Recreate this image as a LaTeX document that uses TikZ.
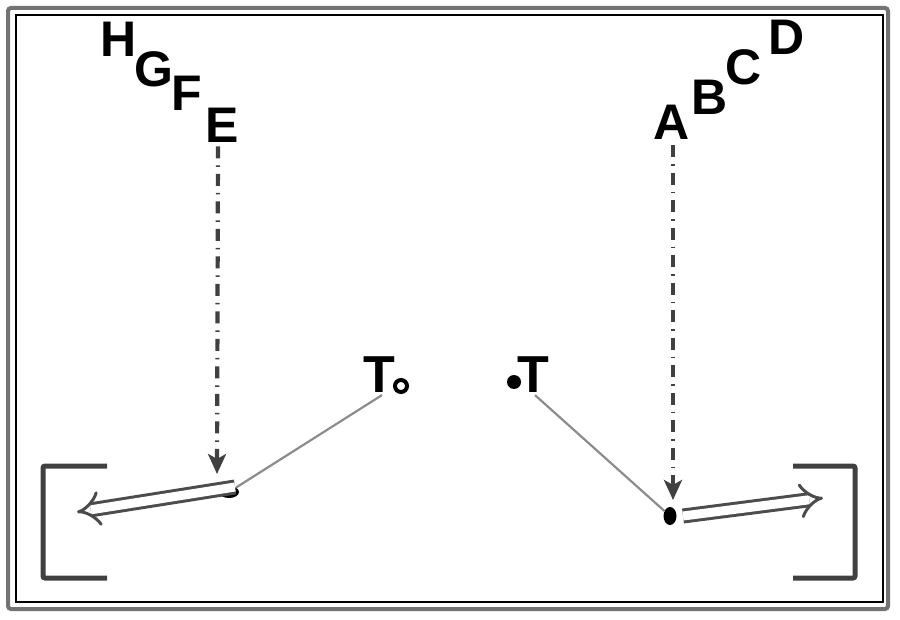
\documentclass[tikz,border=0pt]{standalone}
\usepackage{fontspec}
\setmainfont{Liberation Sans}
\usetikzlibrary{arrows.meta,shapes.geometric}
\begin{document}
\begin{tikzpicture}[x=1pt,y=-1pt,
  letter/.style={font=\fontsize{50}{50}\selectfont\bfseries, inner sep=0pt},
  tlabel/.style={font=\fontsize{52}{52}\selectfont\bfseries, inner sep=0pt},
  dasharrow/.style={draw=black!75, line width=4.2pt, dash pattern=on 12pt off 7pt on 1.5pt off 7pt, -{Stealth[length=20pt,width=18pt,inset=5pt]}},
  dblarrow/.style={draw=black!70, double=white, double distance=9pt, line width=3pt, -{Implies}},
  thinline/.style={draw=black!45, line width=2.2pt},
  blob/.style={ellipse, fill=black, inner sep=0pt},
  bracket/.style={draw=black!75, line width=5pt, rounded corners=2pt}
]
\useasboundingbox (0,0) rectangle (900,620);
% frame
\draw[black!55, line width=4pt, rounded corners=3pt] (8,8) rectangle (888,609);
\draw[black, line width=1.8pt] (16,15) rectangle (883,602);
% brackets
\draw[bracket] (107,466) -- (43,466) -- (43,578) -- (107,578);
\draw[bracket] (793,466) -- (855,466) -- (855,578) -- (793,578);
% letters
\node[letter] (H) at (119,39) {H};
\node[letter] (G) at (154,69) {G};
\node[letter] (F) at (187,93) {F};
\node[letter] (E) at (222,125) {E};
\node[letter] (A) at (672,122) {A};
\node[letter] (B) at (710,97) {B};
\node[letter] (C) at (744,67) {C};
\node[letter] (D) at (787,37) {D};
% T labels
\node[tlabel] (TL) at (379,375) {T};
\node[circle, draw=black, line width=4pt, minimum size=12pt, inner sep=0pt] (ring) at (401,386) {};
\node[tlabel] (TR) at (533,375) {T};
\node[circle, fill=black, minimum size=14pt, inner sep=0pt] (dot) at (514,382) {};
% junction blobs
\node[blob, minimum width=20pt, minimum height=12pt] (jl) at (229,492) {};
\node[blob, minimum width=13pt, minimum height=18pt] (jr) at (670,516) {};
% arrow end points
\coordinate (el) at (217,474);
\coordinate (er) at (673,500);
\coordinate (ls) at (235,487);
\coordinate (lt) at (77,512);
\coordinate (rs) at (683,516);
\coordinate (rt) at (823,498);
% thin lines from T
\draw[thinline] (TL.south) ++(3,2) coordinate (tlb) -- (jl);
\draw[thinline] (TR.south) ++(2,2) coordinate (trb) -- (jr);
% vertical dashed arrows
\draw[dasharrow] (E.south) ++(-4,4) -- (el);
\draw[dasharrow] (A.south) ++(1,6) -- (er);
% double arrows
\draw[dblarrow] (ls) -- (lt);
\draw[dblarrow] (rs) -- (rt);
\end{tikzpicture}
\end{document}
